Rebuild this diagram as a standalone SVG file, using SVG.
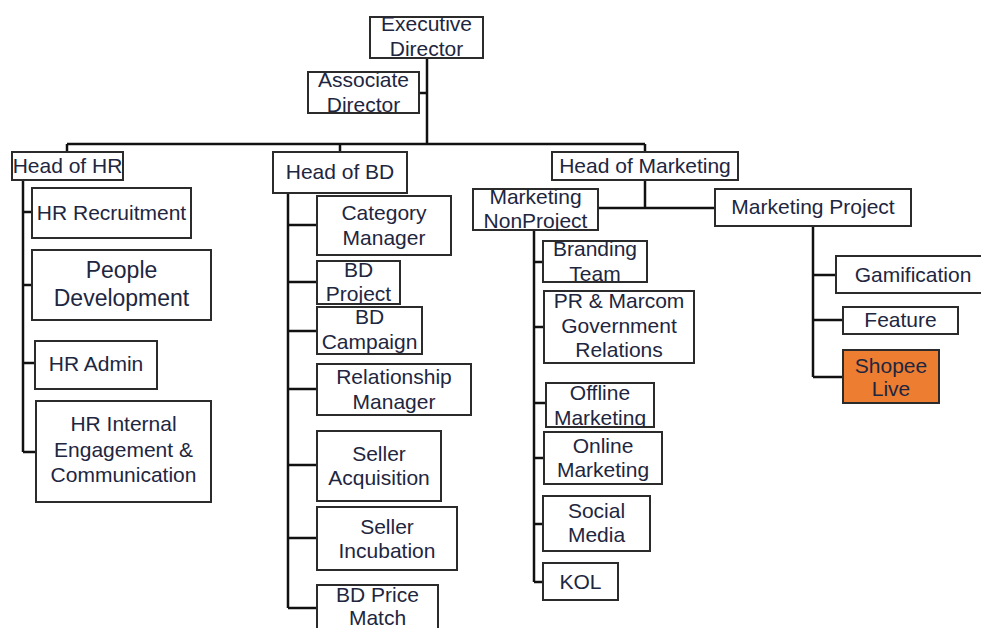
<svg xmlns="http://www.w3.org/2000/svg" width="981" height="628" viewBox="0 0 981 628">
<style>
.box{fill:#ffffff;stroke:#2b2b2b;stroke-width:2}
.hl{fill:#ED7D31;stroke:#2b2b2b;stroke-width:2}
.t{font-family:"Liberation Sans",Arial,sans-serif;font-size:21px;fill:#1e2640;text-anchor:middle}
.big{font-size:23px}
.c{fill:none;stroke:#111;stroke-width:2.5}
</style>
<defs>
<clipPath id="cExec"><rect x="370" y="17" width="113" height="41"/></clipPath>
<clipPath id="cAssoc"><rect x="308" y="72" width="111" height="41"/></clipPath>
<clipPath id="cBdp"><rect x="317" y="261" width="83" height="43"/></clipPath>
<clipPath id="cBdc"><rect x="317" y="307" width="105" height="47"/></clipPath>
<clipPath id="cMnp"><rect x="473" y="189" width="125" height="41"/></clipPath>
<clipPath id="cBrand"><rect x="543" y="241" width="104" height="41"/></clipPath>
<clipPath id="cOff"><rect x="546" y="383" width="108" height="44"/></clipPath>
</defs>
<g id="connectors">
<path class="c" d="M427 58V144M419 93H427M67 144H645M67 144V152M340 144V152M645 144V152"/>
<path class="c" d="M23 180V452M23 212H32M23 285H32M23 363H35M23 452H36"/>
<path class="c" d="M288 193V608M288 225H317M288 282H317M288 331H317M288 389H317M288 465H317M288 538H317M288 608H317"/>
<path class="c" d="M645 180V208M598 208H715"/>
<path class="c" d="M534 230V582M534 262H543M534 327H544M534 403H546M534 458H544M534 524H543M534 582H543"/>
<path class="c" d="M813 226V377M813 275H836M813 320H843M813 377H843"/>
</g>
<g id="executive-director"><rect class="box" x="370" y="17" width="113" height="41"/><g clip-path="url(#cExec)"><text class="t" x="426.5" y="31">Executive</text><text class="t" x="426.5" y="56">Director</text></g></g>
<g id="associate-director"><rect class="box" x="308" y="72" width="111" height="41"/><g clip-path="url(#cAssoc)"><text class="t" x="363.5" y="87">Associate</text><text class="t" x="363.5" y="112">Director</text></g></g>
<g id="head-hr"><rect class="box" x="12" y="152" width="111" height="28"/><text class="t" x="67.5" y="173">Head of HR</text></g>
<g id="hr-recruitment"><rect class="box" x="32" y="188" width="159" height="50"/><text class="t" x="111.5" y="220">HR Recruitment</text></g>
<g id="people-development"><rect class="box" x="32" y="250" width="179" height="70"/><text class="t big" x="121.5" y="278">People</text><text class="t big" x="121.5" y="306">Development</text></g>
<g id="hr-admin"><rect class="box" x="35" y="341" width="122" height="48"/><text class="t" x="96" y="371">HR Admin</text></g>
<g id="hr-internal"><rect class="box" x="36" y="401" width="175" height="101"/><text class="t" x="123.5" y="431">HR Internal</text><text class="t" x="123.5" y="457">Engagement &amp;</text><text class="t" x="123.5" y="482">Communication</text></g>
<g id="head-bd"><rect class="box" x="273" y="152" width="134" height="41"/><text class="t" x="340" y="179">Head of BD</text></g>
<g id="category-manager"><rect class="box" x="317" y="196" width="134" height="59"/><text class="t" x="384" y="220">Category</text><text class="t" x="384" y="245">Manager</text></g>
<g id="bd-project"><rect class="box" x="317" y="261" width="83" height="43"/><g clip-path="url(#cBdp)"><text class="t" x="358.5" y="277">BD</text><text class="t" x="358.5" y="301">Project</text></g></g>
<g id="bd-campaign"><rect class="box" x="317" y="307" width="105" height="47"/><g clip-path="url(#cBdc)"><text class="t" x="369.5" y="324">BD</text><text class="t" x="369.5" y="349">Campaign</text></g></g>
<g id="relationship-manager"><rect class="box" x="317" y="364" width="154" height="51"/><text class="t" x="394" y="384">Relationship</text><text class="t" x="394" y="409">Manager</text></g>
<g id="seller-acquisition"><rect class="box" x="317" y="431" width="124" height="70"/><text class="t" x="379" y="461">Seller</text><text class="t" x="379" y="485">Acquisition</text></g>
<g id="seller-incubation"><rect class="box" x="317" y="507" width="140" height="63"/><text class="t" x="387" y="534">Seller</text><text class="t" x="387" y="558">Incubation</text></g>
<g id="bd-price-match"><rect class="box" x="317" y="585" width="121" height="50"/><text class="t" x="377.5" y="602">BD Price</text><text class="t" x="377.5" y="625">Match</text></g>
<g id="head-marketing"><rect class="box" x="552" y="152" width="186" height="28"/><text class="t" x="645" y="173">Head of Marketing</text></g>
<g id="marketing-nonproject"><rect class="box" x="473" y="189" width="125" height="41"/><g clip-path="url(#cMnp)"><text class="t" x="535.5" y="204">Marketing</text><text class="t" x="535.5" y="228">NonProject</text></g></g>
<g id="branding-team"><rect class="box" x="543" y="241" width="104" height="41"/><g clip-path="url(#cBrand)"><text class="t" x="595" y="256">Branding</text><text class="t" x="595" y="281">Team</text></g></g>
<g id="pr-marcom"><rect class="box" x="544" y="291" width="150" height="72"/><text class="t" x="619" y="308">PR &amp; Marcom</text><text class="t" x="619" y="333">Government</text><text class="t" x="619" y="357">Relations</text></g>
<g id="offline-marketing"><rect class="box" x="546" y="383" width="108" height="44"/><g clip-path="url(#cOff)"><text class="t" x="600" y="400">Offline</text><text class="t" x="600" y="425">Marketing</text></g></g>
<g id="online-marketing"><rect class="box" x="544" y="432" width="118" height="52"/><text class="t" x="603" y="453">Online</text><text class="t" x="603" y="477">Marketing</text></g>
<g id="social-media"><rect class="box" x="543" y="496" width="107" height="55"/><text class="t" x="596.5" y="518">Social</text><text class="t" x="596.5" y="542">Media</text></g>
<g id="kol"><rect class="box" x="543" y="563" width="75" height="37"/><text class="t" x="580.5" y="589">KOL</text></g>
<g id="marketing-project"><rect class="box" x="715" y="189" width="196" height="37"/><text class="t" x="813" y="214">Marketing Project</text></g>
<g id="gamification"><rect class="box" x="836" y="256" width="150" height="37"/><text class="t" x="913" y="282">Gamification</text></g>
<g id="feature"><rect class="box" x="843" y="307" width="115" height="27"/><text class="t" x="900.5" y="327">Feature</text></g>
<g id="shopee-live"><rect class="hl" x="843" y="350" width="96" height="53"/><text class="t" x="891" y="373">Shopee</text><text class="t" x="891" y="396">Live</text></g>
</svg>
